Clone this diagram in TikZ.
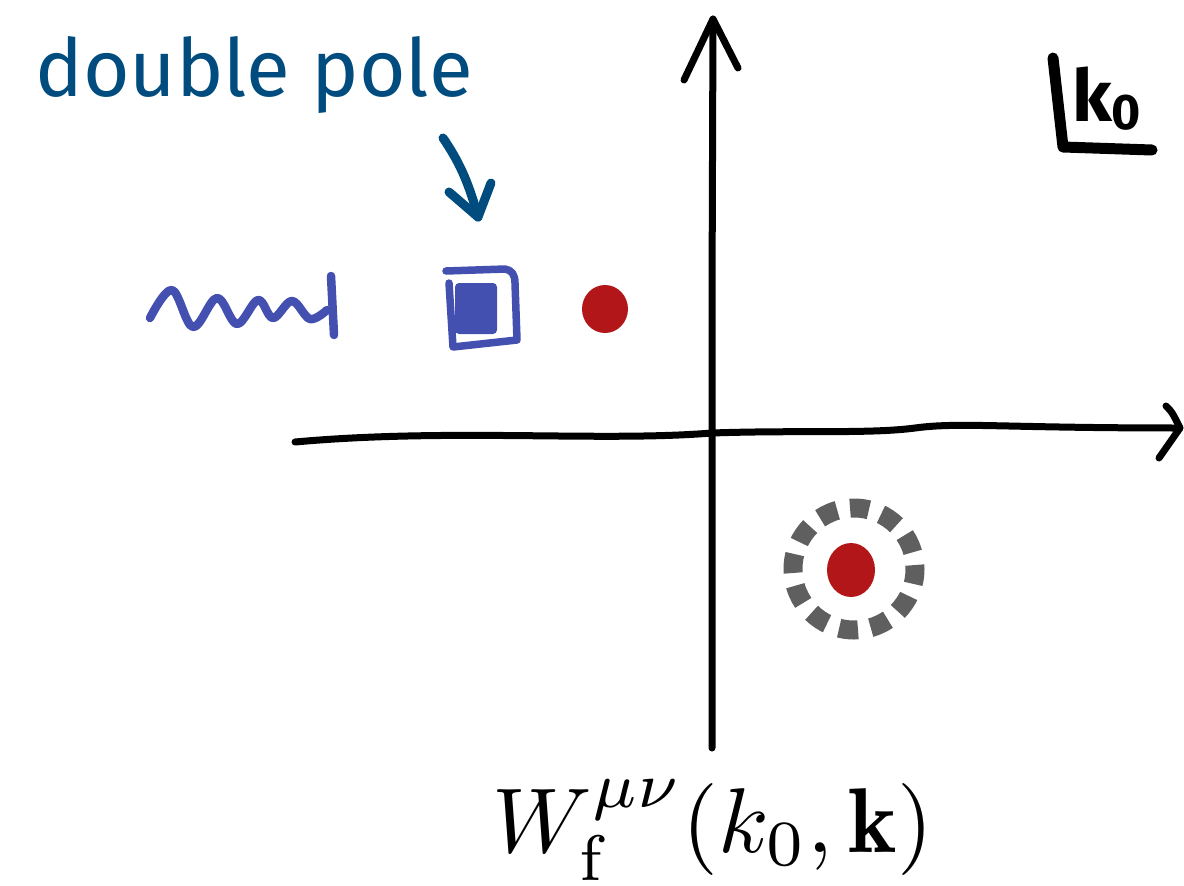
\documentclass[tikz,border=0pt]{standalone}
\usepackage{fontspec}
\newfontfamily\dpfont{Fira Sans}
\definecolor{labelblue}{HTML}{004C7E}
\definecolor{strokeblue}{HTML}{4450B0}
\definecolor{polered}{HTML}{B31618}
\definecolor{ringgray}{HTML}{5F5F5F}
\tikzset{
  axis/.style={line width=7pt, line cap=round, line join=round, black},
  bluestroke/.style={line width=8.5pt, line cap=round, line join=round, strokeblue},
  arrowstroke/.style={line width=9pt, line cap=round, line join=round, labelblue},
  handk/.style={line width=11pt, line cap=round, line join=round, black},
  pole/.style={fill=polered, draw=none},
}
\begin{document}
\begin{tikzpicture}[x=1pt,y=-1pt]
\useasboundingbox (0,0) rectangle (1184,886);
% axes
\coordinate (origin) at (712,433);
\coordinate (xstart) at (295,442);
\coordinate (xtip) at (1180,428);
\coordinate (ybottom) at (712,748);
\coordinate (ytip) at (713,19);
\draw[axis] (xstart) .. controls (450,428) and (600,442) .. (origin)
  .. controls (800,430) and (870,434) .. (915,428)
  .. controls (960,422) and (1000,428) .. (xtip);
\draw[axis] (1166,406) .. controls (1172,412) .. (xtip) -- (1159,458);
\draw[axis] (ybottom) -- (712,300) -- (ytip);
\draw[axis] (684,80) -- (ytip) -- (738,68);
% branch cut
\draw[bluestroke] plot[smooth, tension=0.6] coordinates {(150,318) (172,290) (193,327) (217,298) (237,324) (258,300) (273,318) (292,301) (310,319) (327,310)};
\draw[bluestroke] (331,276) -- (334,335);
% double pole
\draw[bluestroke, line width=7.5pt] (446,271) -- (505,269) .. controls (512,270) and (515,275) .. (515,283) -- (517,340) -- (453,347) -- (449,283);
\fill[strokeblue, rounded corners=4pt] (455,283) rectangle (497,334);
\coordinate (dptarget) at (478,217);
% simple poles
\fill[pole] (605,309) ellipse (23 and 24);
\fill[pole] (851,570) ellipse (24 and 27);
\draw[ringgray, line width=19pt, dash pattern=on 19pt off 12.94pt, dash phase=4pt] (854,569) circle (61);
% label
\node[anchor=base west, inner sep=0pt, text=labelblue, font=\dpfont\fontsize{80}{90}\selectfont] (dplabel) at (35,96) {double pole};
\draw[arrowstroke] (443,138) .. controls (458,160) and (468,180) .. (dptarget);
\draw[arrowstroke] (449,192) -- (dptarget) -- (491,183);
% k0 corner label
\draw[handk] (1053,58) -- (1063,147) -- (1152,150);
\node[anchor=base west, inner sep=0pt, font=\dpfont\bfseries\fontsize{72}{76}\selectfont] (klabel) at (1072,121) {k\raisebox{-8pt}{\fontsize{50}{50}\selectfont 0}};
% function label
\node[anchor=base, inner sep=0pt, scale=9.2] (wlabel) at (713,852) {$W_{\mathrm{f}}^{\mu\nu}(k_0,\mathbf{k})$};
\end{tikzpicture}
\end{document}
